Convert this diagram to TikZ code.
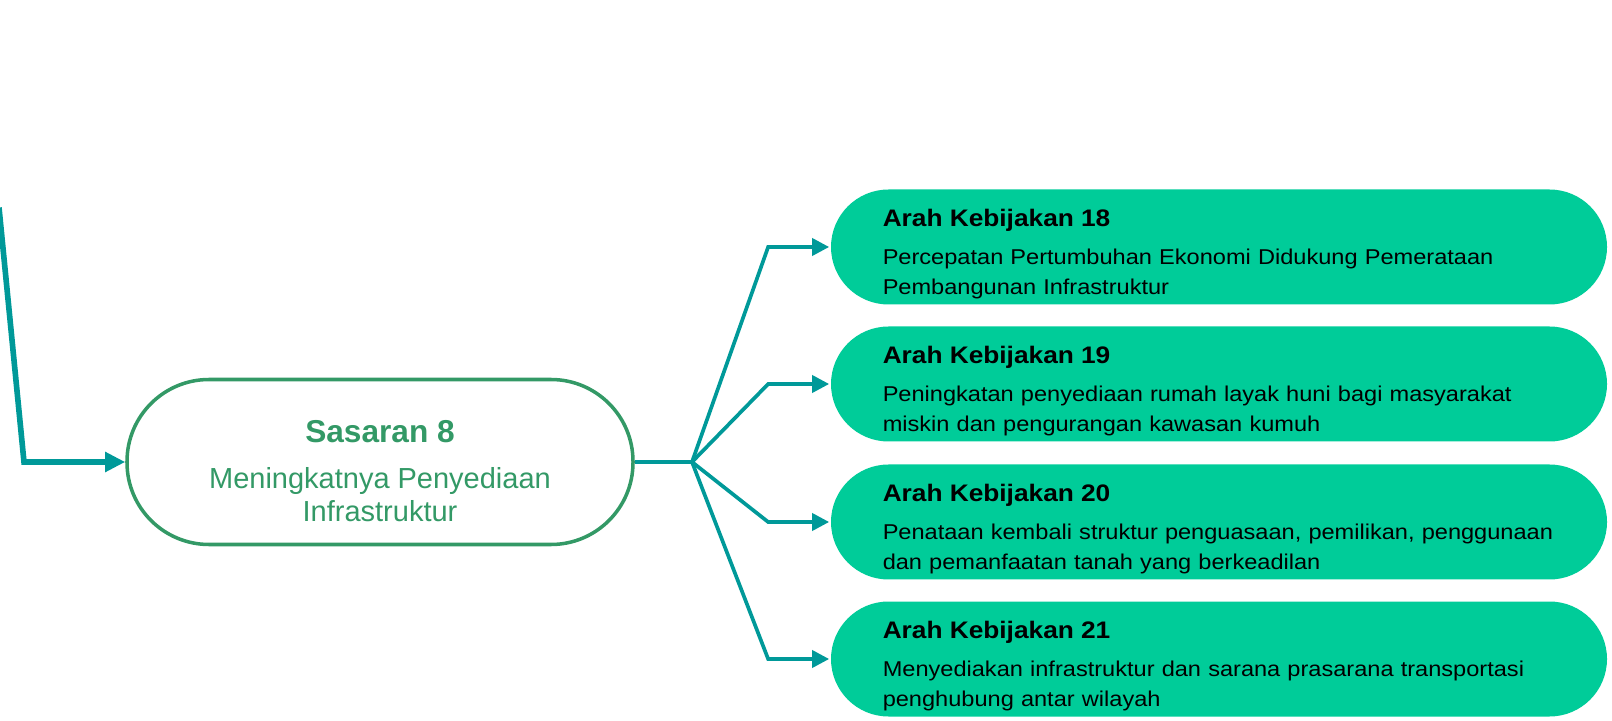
\documentclass[tikz,border=0pt]{standalone}
\usepackage{fontspec}
\setmainfont{Liberation Sans}
\newfontfamily\widefont[FakeStretch=1.1]{Liberation Sans}
\usetikzlibrary{arrows.meta,positioning,calc}
\definecolor{tosca}{HTML}{009999}
\definecolor{mint}{HTML}{00CC99}
\definecolor{leaf}{HTML}{339966}

\begin{document}
\begin{tikzpicture}[x=1cm,y=1cm,line width=2.1pt,every node/.style={font=\fontsize{12.2}{17}\selectfont},sasaran/.style={draw=leaf,line width=2pt,rounded corners=1.64cm,minimum width=10.12cm,minimum height=3.3cm,align=center,text=leaf,font=\fontsize{16.5}{19}\selectfont},arah/.style={fill=mint,rounded corners=1.15cm,minimum height=2.3cm,text width=13.45cm,inner xsep=1.035cm,inner ysep=0pt,align=left,font=\widefont\fontsize{12.2}{17}\selectfont},link/.style={tosca,line width=2.1pt,-{Triangle[length=.34cm,width=.34cm]}}]
\path[use as bounding box] (0,0) rectangle (32.24,14.4);

\node[sasaran] (sas) at (7.6,5.16) {{\fontsize{18}{22}\bfseries\rule{0pt}{23pt}Sasaran 8}\\[7pt]Meningkatnya Penyediaan\\Infrastruktur};
\node[arah] (k18) at (24.38,9.46) {{\fontsize{13.6}{17}\bfseries\rule{0pt}{18pt}Arah Kebijakan 18}\\[5pt]Percepatan Pertumbuhan Ekonomi Didukung Pemerataan\\Pembangunan Infrastruktur};
\node[arah] (k19) at (24.38,6.72) {{\fontsize{13.6}{17}\bfseries\rule{0pt}{18pt}Arah Kebijakan 19}\\[5pt]Peningkatan penyediaan rumah layak huni bagi masyarakat\\miskin dan pengurangan kawasan kumuh};
\node[arah] (k20) at (24.38,3.96) {{\fontsize{13.6}{17}\bfseries\rule{0pt}{18pt}Arah Kebijakan 20}\\[5pt]Penataan kembali struktur penguasaan, pemilikan, penggunaan\\dan pemanfaatan tanah yang berkeadilan};
\node[arah] (k21) at (24.38,1.22) {{\fontsize{13.6}{17}\bfseries\rule{0pt}{18pt}Arah Kebijakan 21}\\[5pt]Menyediakan infrastruktur dan sarana prasarana transportasi\\penghubung antar wilayah};

% incoming line from the upper left
\coordinate (from) at (-.02,10.25);
\draw[tosca,line width=3.2pt,-{Triangle[length=.4cm,width=.38cm]}] (from)--(.48,5.16)--(sas.west);

% fork towards the four arah kebijakan
\coordinate (fork) at (13.84,5.16);
\draw[tosca] (sas.east)--(fork);
\foreach \k in {18,19,20,21}
  \draw[link] (fork)--($(k\k.west)+(-1.22,0)$)--(k\k.west);

\end{tikzpicture}
\end{document}
